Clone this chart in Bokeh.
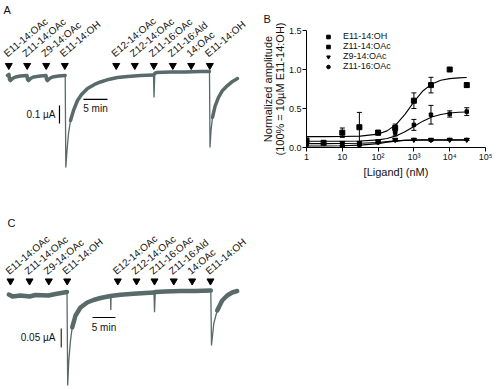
from bokeh.plotting import figure
from bokeh.models import (Range1d, ColumnDataSource, Label, Whisker, TeeHead, Legend,
                          LegendItem, FixedTicker, NumeralTickFormatter)
from bokeh.layouts import column, row
from bokeh.core.properties import value
from bokeh.embed import file_html
from bokeh.resources import INLINE

FONT = "Liberation Sans"
TRACE = "#586a6a"
INK = "#111111"

# ---------------- Panels A and C : stimuli ----------------
stimuli = ["E11-14:OAc", "Z11-14:OAc", "Z9-14:OAc", "E11-14:OH", "E12-14:OAc",
           "Z12-14:OAc", "Z11-16:OAc", "Z11-16:Ald", "14:OAc", "E11-14:OH"]
A_stim_t = [0.27, 4.10, 8.06, 11.94, 22.65, 26.52, 30.48, 34.44, 38.27, 42.15]   # min
C_stim_t = [0.43, 4.57, 8.76, 12.76, 23.76, 27.83, 31.74, 35.93, 39.93, 43.91]   # min

# ---------------- Panel A trace (time in min, current in uA) ----------------
A_noisy_t = [
    [0, 0.31, 0.42, 0.63, 1.04, 1.67, 2.71, 4.06, 4.17, 4.38, 4.79, 5.42, 6.88,
     8.02, 8.13, 8.33, 8.75, 9.38, 10.63, 12.02],
    [13.13, 13.75, 14.58, 15.42, 16.67, 18.13, 19.38, 21.04, 22.92, 25.0, 27.71, 30.42],
    [30.69, 31.04, 33.96, 37.08, 40.21, 42.08],
    [42.71, 43.23, 43.96, 44.79, 45.83, 46.88, 47.92],
]
A_noisy_i = [
    [0, 0.006, -0.022, -0.028, -0.017, -0.008, -0.003, 0, -0.022, -0.028, -0.017, -0.008, -0.003,
     0, -0.022, -0.028, -0.017, -0.008, -0.003, 0],
    [-0.25, -0.194, -0.139, -0.106, -0.072, -0.05, -0.036, -0.022, -0.011, -0.006, 0, 0.003],
    [0.011, 0.017, 0.019, 0.019, 0.022, 0.022],
    [-0.233, -0.172, -0.122, -0.083, -0.056, -0.033, -0.017],
]
A_spike_t = [[12.02, 12.15, 12.40, 12.71, 13.13],
             [30.42, 30.52, 30.69],
             [42.08, 42.19, 42.40, 42.71]]
A_spike_i = [[0, -0.511, -0.417, -0.322, -0.25],
             [0.003, -0.122, 0.011],
             [0.022, -0.40, -0.306, -0.233]]

# ---------------- Panel C trace ----------------
C_noisy_t = [
    [0.07, 0.87, 2.61, 4.57, 5.87, 8.70, 10.22, 12.72],
    [13.85, 14.57, 15.65, 17.11, 18.48, 20.0, 22.17, 24.35, 27.17, 29.78, 31.63],
    [31.91, 34.13, 37.39, 40.65, 43.98],
    [45.37, 46.46, 47.54, 48.63, 49.72],
]
C_noisy_i = [
    [0.0026, -0.0026, 0, -0.0026, 0.0013, 0, 0.0039, 0.0092],
    [-0.084, -0.0526, -0.0316, -0.0184, -0.0118, -0.0066, -0.0013, 0.0018, 0.0045, 0.0066, 0.0079],
    [0.0092, 0.0105, 0.0118, 0.0118, 0.0132],
    [-0.0395, -0.0132, 0, 0.0079, 0.0118],
]
C_spike_t = [[12.72, 12.87, 13.11, 13.48, 13.85],
             [31.63, 31.74, 31.91],
             [43.98, 44.13, 44.63, 45.37],
             [22.17, 22.24, 22.30]]
C_spike_i = [[0.0092, -0.2368, -0.171, -0.118, -0.084],
             [0.0079, -0.044, 0.0092],
             [0.0132, -0.1316, -0.0737, -0.0395],
             [-0.0013, -0.038, -0.0013]]

A_bar_current, A_bar_time = 0.1, 5      # scale bars
C_bar_current, C_bar_time = 0.05, 5

# ---------------- Panel B : dose response ----------------
x_ticks = [1, 10, 100, 1000, 10000, 100000]
x_tick_labels = ["1", "10", "10\u00b2", "10\u00b3", "10\u2074", "10\u2075"]
y_ticks = [0, 0.5, 1.0, 1.5]

E11OH_x = [1, 3, 10, 30, 100, 300, 1000, 3000, 10000, 30000]
E11OH_y = [0.09, 0.06, 0.19, 0.26, 0.19, 0.25, 0.60, 0.80, 1.00, 0.80]
E11OH_e = [0.02, 0.02, 0.06, 0.19, 0.03, 0.05, 0.10, 0.10, 0.0, 0.03]

Z1114_x = [1, 10, 30, 100, 300, 1000, 3000, 10000, 30000]
Z1114_y = [0.05, 0.02, 0.04, 0.07, 0.19, 0.29, 0.42, 0.43, 0.46]
Z1114_e = [0.01, 0.01, 0.01, 0.01, 0.04, 0.07, 0.12, 0.04, 0.05]

Z914_x = [1, 10, 30, 100, 300, 1000, 3000, 10000, 30000]
Z914_y = [0.07, 0.06, 0.06, 0.08, 0.10, 0.10, 0.10, 0.10, 0.10]
Z914_e = [0.01, 0.01, 0.01, 0.01, 0.01, 0.01, 0.01, 0.01, 0.01]

Z1116_x = [1, 10, 30, 100, 300, 1000, 3000, 10000, 30000]
Z1116_y = [0.03, 0.02, 0.03, 0.06, 0.09, 0.10, 0.09, 0.10, 0.10]
Z1116_e = [0.01, 0.01, 0.01, 0.01, 0.01, 0.01, 0.01, 0.01, 0.01]

fit_x = [1, 3.16, 10, 31.6, 100, 178, 316, 562, 1000, 1778, 3162, 5623, 10000, 17783, 30000]
E11OH_fit = [0.14, 0.14, 0.141, 0.146, 0.172, 0.213, 0.293, 0.424, 0.585, 0.725, 0.815, 0.862, 0.883, 0.893, 0.897]
Z1114_fit = [0.080, 0.080, 0.081, 0.084, 0.098, 0.116, 0.149, 0.202, 0.27, 0.338, 0.39, 0.424, 0.442, 0.451, 0.455]
Z914_fit = [0.05, 0.05, 0.051, 0.055, 0.065, 0.075, 0.085, 0.091, 0.094, 0.095, 0.095, 0.095, 0.095, 0.095, 0.095]
Z1116_fit = [0.02, 0.02, 0.022, 0.03, 0.05, 0.067, 0.082, 0.092, 0.097, 0.099, 0.1, 0.1, 0.1, 0.1, 0.1]

series = [
    ("E11-14:OH", E11OH_x, E11OH_y, E11OH_e, E11OH_fit, "square", 5),
    ("Z11-14:OAc", Z1114_x, Z1114_y, Z1114_e, Z1114_fit, "square", 3.5),
    ("Z9-14:OAc", Z914_x, Z914_y, Z914_e, Z914_fit, "inverted_triangle", 5),
    ("Z11-16:OAc", Z1116_x, Z1116_y, Z1116_e, Z1116_fit, "circle", 3),
]


def trace_panel(height, x0, x1, y0, y1, noisy_t, noisy_i, spike_t, spike_i, width_band,
                stim_t, arrow_y, label_y, letter, letter_xy):
    p = figure(width=258, height=height, x_range=Range1d(x0, x1), y_range=Range1d(y0, y1),
               output_backend="svg", toolbar_location=None, min_border=0,
               x_axis_location=None, y_axis_location=None, frame_align=False)
    p.outline_line_color = None
    p.grid.visible = False
    p.multi_line(xs=spike_t, ys=spike_i, line_color=TRACE, line_width=1.3)
    p.multi_line(xs=noisy_t, ys=noisy_i, line_color=TRACE, line_width=width_band,
                 line_join="round", line_cap="round")
    p.scatter(x=stim_t, y=[arrow_y] * len(stim_t), marker="inverted_triangle", size=7,
              fill_color="black", line_color="black")
    p.text(x=stim_t, y=[label_y] * len(stim_t), text=stimuli, angle=0.70,
           text_font=value(FONT), text_font_size="10px", text_align="left",
           text_baseline="bottom", text_color=INK)
    p.add_layout(Label(x=letter_xy[0], y=letter_xy[1], text=letter, text_font=FONT,
                       text_font_size="11px", text_align="left", text_baseline="top",
                       text_color=INK))
    return p


pA = trace_panel(188, -1.458, 52.29, -0.628, 0.4167, A_noisy_t, A_noisy_i, A_spike_t, A_spike_i,
                 3.5, A_stim_t, 0.0556, 0.092, "A", (-0.833, 0.40))
# A scale bars
a_vx, a_vy = 10.83, -0.167
pA.segment(x0=[a_vx], y0=[a_vy], x1=[a_vx], y1=[a_vy - A_bar_current], line_color="black", line_width=1.2)
a_hx, a_hy = 15.83, -0.133
pA.segment(x0=[a_hx], y0=[a_hy], x1=[a_hx + A_bar_time], y1=[a_hy], line_color="black", line_width=1.2)
pA.add_layout(Label(x=10.0, y=a_vy - A_bar_current / 2, text="0.1 \u00b5A", text_font=FONT,
                    text_font_size="10px", text_align="right", text_baseline="middle", text_color=INK))
pA.add_layout(Label(x=a_hx + A_bar_time / 2, y=-0.183, text="5 min", text_font=FONT,
                    text_font_size="10px", text_align="center", text_baseline="middle", text_color=INK))

pC = trace_panel(198, -1.739, 54.35, -0.2395, 0.2816, C_noisy_t, C_noisy_i, C_spike_t, C_spike_i,
                 4.5, C_stim_t, 0.0382, 0.05, "C", (-0.217, 0.2079))
c_vx, c_vy = 11.46, -0.0868
pC.segment(x0=[c_vx], y0=[c_vy], x1=[c_vx], y1=[c_vy - C_bar_current], line_color="black", line_width=1.0)
c_hx, c_hy = 18.26, -0.0579
pC.segment(x0=[c_hx], y0=[c_hy], x1=[c_hx + C_bar_time], y1=[c_hy], line_color="black", line_width=1.2)
pC.add_layout(Label(x=10.2, y=c_vy - C_bar_current / 2, text="0.05 \u00b5A", text_font=FONT,
                    text_font_size="10px", text_align="right", text_baseline="middle", text_color=INK))
pC.add_layout(Label(x=c_hx + C_bar_time / 2, y=-0.0842, text="5 min", text_font=FONT,
                    text_font_size="10px", text_align="center", text_baseline="middle", text_color=INK))

# ---------------- Panel B ----------------
pB = figure(width=234, height=188, x_axis_type="log", x_range=Range1d(1, 1e5),
            y_range=Range1d(0, 1.5), output_backend="svg", toolbar_location=None,
            min_border_left=48, min_border_right=7, min_border_top=30, min_border_bottom=41,
            frame_align=False, title="B")
pB.outline_line_color = None
pB.grid.visible = False
pB.title.align = "left"
pB.title.offset = -43
pB.title.standoff = 11
pB.title.text_font = FONT
pB.title.text_font_size = "11px"
pB.title.text_font_style = "normal"
pB.title.text_color = INK

items = []
for name, xs, ys, es, fit, marker, size in series:
    pB.line(x=fit_x, y=fit, line_color="black", line_width=1.1)
    wx = [x for x, e in zip(xs, es) if e > 0]
    wl = [y - e for y, e in zip(ys, es) if e > 0]
    wu = [y + e for y, e in zip(ys, es) if e > 0]
    src = ColumnDataSource(dict(x=wx, lower=wl, upper=wu))
    pB.add_layout(Whisker(source=src, base="x", lower="lower", upper="upper", dimension="height",
                          line_color="black", line_width=1,
                          upper_head=TeeHead(size=5, line_color="black", line_width=1),
                          lower_head=TeeHead(size=5, line_color="black", line_width=1)))
    r = pB.scatter(x=xs, y=ys, marker=marker, size=size, fill_color="black", line_color="black")
    items.append(LegendItem(label=name, renderers=[r]))

legend = Legend(items=items, location=(17, 76), label_text_font=FONT, label_text_font_size="9px",
                label_text_line_height=1.0, label_height=10, glyph_height=9, glyph_width=10,
                spacing=-1, padding=0, margin=0,
                label_standoff=10, border_line_color=None, background_fill_alpha=0,
                label_text_color=INK)
pB.add_layout(legend)

pB.xaxis.ticker = FixedTicker(ticks=x_ticks)
pB.xaxis.major_label_overrides = dict(zip(x_ticks, x_tick_labels))
pB.yaxis.ticker = FixedTicker(ticks=y_ticks)
pB.yaxis.formatter = NumeralTickFormatter(format="0.0")
pB.xaxis.axis_label = "[Ligand] (nM)"
pB.yaxis.axis_label = "Normalized amplitude\n(100% = 10\u00b5M E11-14:OH)"
for ax in pB.axis:
    ax.axis_label_text_font = FONT
    ax.axis_label_text_font_size = "11px"
    ax.axis_label_text_font_style = "normal"
    ax.axis_label_text_color = INK
    ax.major_label_text_font = FONT
    ax.major_label_text_font_size = "9px"
    ax.major_label_text_color = INK
    ax.major_tick_out = 4
    ax.major_tick_in = 0
    ax.minor_tick_out = 0
    ax.minor_tick_in = 0
    ax.axis_line_color = "black"
    ax.major_tick_line_color = "black"
pB.xaxis.major_label_standoff = 0
pB.xaxis.axis_label_standoff = 1
pB.yaxis.major_label_standoff = 1
pB.yaxis.axis_label_standoff = 0
pB.yaxis.axis_label_text_line_height = 1.0

layout = column(row(pA, pB), pC)
open("out.html", "w").write(file_html(layout, INLINE))
